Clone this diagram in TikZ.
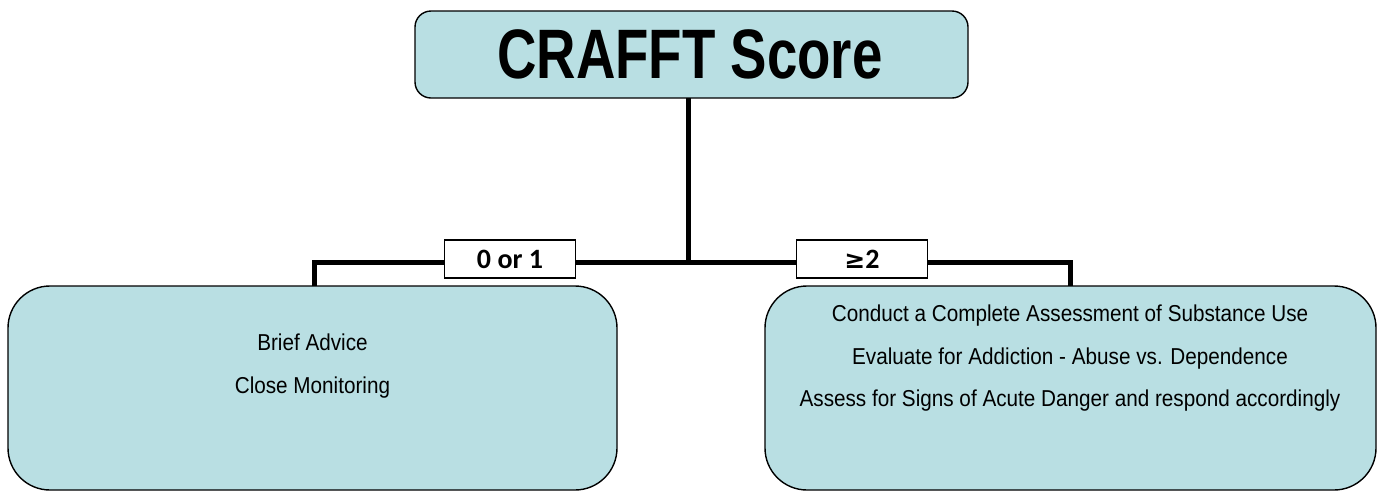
\documentclass[tikz,border=0pt]{standalone}
\usepackage{fontspec}
\setmainfont{Liberation Sans}
\newfontfamily\narrowfont[FakeStretch=0.9]{Liberation Sans}
\newfontfamily\titlefont[FakeStretch=0.78]{Liberation Sans}
\newfontfamily\labelfont{Carlito}
\newfontfamily\symfont{DejaVu Sans}
\definecolor{boxfill}{RGB}{185,223,227}
\begin{document}
\begin{tikzpicture}[x=1pt,y=-1pt,
  box/.style={draw=black,line width=1.4pt,fill=boxfill,rounded corners=#1},
  tag/.style={draw=black,line width=1.2pt,fill=white,minimum width=131pt,minimum height=38pt,inner sep=0pt,
    font=\labelfont\fontsize{28}{30}\selectfont\bfseries},
  link/.style={line width=5pt},
  body/.style={align=center,inner sep=0pt,anchor=north,font=\narrowfont\fontsize{23}{42.7}\selectfont}]
\useasboundingbox (0,0) rectangle (1379,491);
% root box
\draw[box=16pt] (415,11) rectangle (968,98);
\node (root) at (690,54) {\titlefont\fontsize{70}{74}\selectfont\bfseries CRAFFT Score};
\coordinate (rootb) at (688,98);
% outcome boxes
\draw[box=42pt] (8,286) rectangle (617,490);
\draw[box=42pt] (765,286) rectangle (1376,490);
\coordinate (lt) at (314,286);
\coordinate (rt) at (1070,286);
\coordinate (j) at (688,262);
% connectors
\draw[link] (rootb) -- (j);
\draw[link] (lt) |- (j) -| (rt);
% branch tags
\node[tag] (t0) at (510,259) {0 or 1};
\node[tag] (t2) at (862,259) {{\symfont\fontsize{25}{30}\selectfont ≥}2};
% body texts
\node[body] (lb) at (312.5,334) {Brief Advice\\Close Monitoring};
\node[body] (rb) at (1070,304.5) {Conduct a Complete Assessment of Substance Use\\Evaluate for Addiction - Abuse vs. Dependence\\Assess for Signs of Acute Danger and respond accordingly};
\end{tikzpicture}
\end{document}
